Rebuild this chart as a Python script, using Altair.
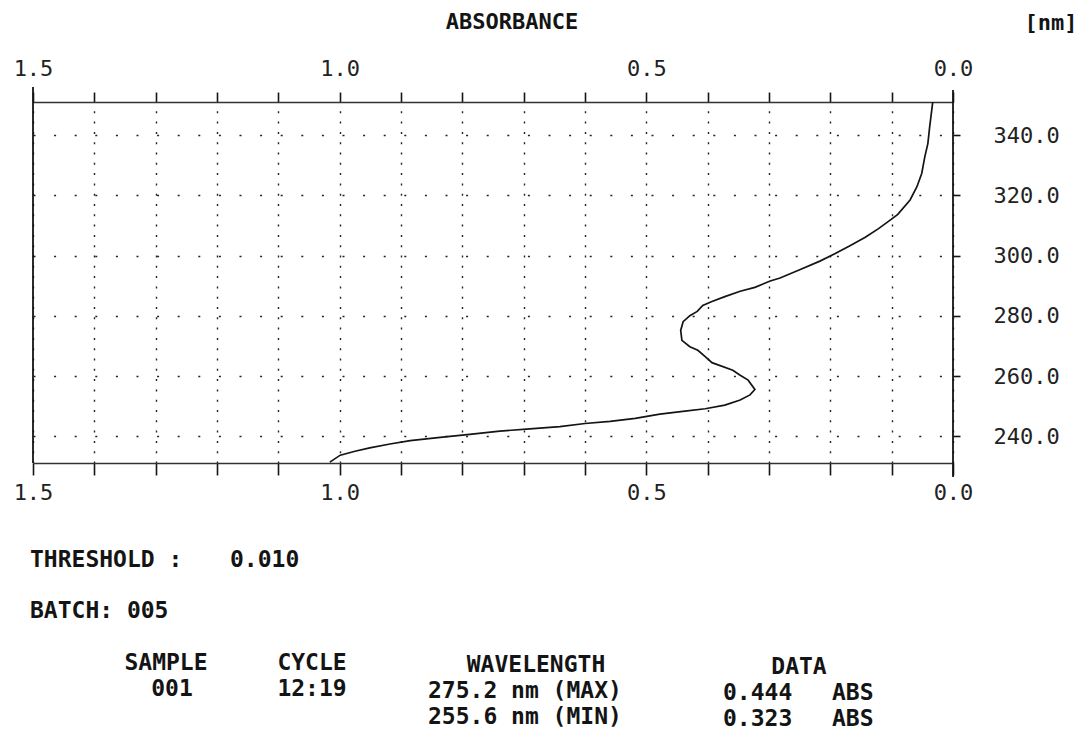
import altair as alt
import pandas as pd

# ---- data ----
wavelength_nm = [231.5, 233.8, 235.1, 236.2, 237.5, 238.6, 239.7, 240.7, 241.8, 242.5,
                 243.3, 244.3, 245.0, 246.0, 247.4, 248.4, 249.2, 250.4, 252.1, 253.8,
                 255.6, 258.7, 260.3, 262.0, 264.5, 266.5, 268.6, 269.8, 271.9, 275.2,
                 278.1, 280.1, 281.5, 283.5, 284.8, 286.4, 288.2, 289.5, 291.6, 292.6,
                 295.4, 298.2, 300.7, 303.3, 306.1, 308.9, 311.7, 313.7, 318.5, 322.8,
                 327.3, 332.8, 337.2, 342.8, 349.4, 351.0]
absorbance = [1.016, 0.999, 0.975, 0.951, 0.918, 0.885, 0.836, 0.788, 0.739, 0.690,
              0.641, 0.600, 0.559, 0.518, 0.478, 0.437, 0.404, 0.372, 0.347, 0.331,
              0.323, 0.334, 0.347, 0.359, 0.393, 0.404, 0.416, 0.429, 0.442, 0.444,
              0.440, 0.429, 0.417, 0.408, 0.393, 0.372, 0.347, 0.323, 0.298, 0.282,
              0.249, 0.217, 0.192, 0.168, 0.143, 0.122, 0.103, 0.090, 0.070, 0.059,
              0.051, 0.046, 0.041, 0.038, 0.034, 0.033]
abs_ticks = [0.0, 0.1, 0.2, 0.3, 0.4, 0.5, 0.6, 0.7, 0.8, 0.9, 1.0, 1.1, 1.2, 1.3, 1.4, 1.5]
wl_ticks = [240, 260, 280, 300, 320, 340]
abs_domain = [0.0, 1.5]
wl_domain = [231.2, 351.0]

peak_wavelengths = [275.2, 255.6]
peak_values = [0.444, 0.323]
peak_kinds = ["MAX", "MIN"]
threshold = ["0.010"]
batch = ["005"]
sample = ["001"]
cycle = ["12:19"]

# ---- layout ----
W, H = 920, 361
PAD_L, PAD_T = 25, 94
OX, OY = PAD_L + 8, PAD_T + 8   # page position of the plot origin
TOTAL_H = 722
INK = "#141414"
MONO = "DejaVu Sans Mono"

df = pd.DataFrame({"abs": absorbance, "wl": wavelength_nm, "i": list(range(len(absorbance)))})

xscale = alt.Scale(domain=abs_domain, reverse=True, nice=False, zero=False)
yscale = alt.Scale(domain=wl_domain, nice=False, zero=False)
label_expr = "round(datum.value*10) % 5 == 0 ? format(datum.value, '.1f') : ''"

common = dict(values=abs_ticks, labelExpr=label_expr, title=None,
              tickColor=INK, tickWidth=1.6, domainColor="#333", domainWidth=1.3,
              labelFont=MONO, labelFontSize=22, labelColor="#222",
              labelFlush=False, labelOverlap=False)

top_axis = alt.Axis(orient="top", tickSize=10, labelPadding=12, grid=True,
                    gridDash=[2, 8.3], gridColor="#222", gridWidth=1.4, **common)
bottom_axis = alt.Axis(orient="bottom", tickSize=12, labelPadding=7, grid=False, **common)
right_axis = alt.Axis(orient="right", values=wl_ticks, format=".1f", title=None,
                      tickSize=7, tickColor=INK, tickWidth=1.6, domain=False,
                      labelPadding=33, labelFont=MONO, labelFontSize=22, labelColor="#222",
                      labelBaseline="middle", labelOverlap=False, labelFlush=False,
                      grid=True, gridDash=[2, 18.6], gridColor="#222", gridWidth=1.4)

curve = alt.Chart(df).mark_line(color=INK, strokeWidth=1.7).encode(
    x=alt.X("abs:Q", scale=xscale, axis=top_axis),
    y=alt.Y("wl:Q", scale=yscale, axis=right_axis),
    order="i:Q",
)

left_edge = alt.Chart(pd.DataFrame({"abs": [abs_domain[1]]})).mark_rule(
    color=INK, strokeWidth=1.8).encode(
    x=alt.X("abs:Q", scale=xscale, axis=bottom_axis),
    y=alt.value(-15), y2=alt.value(H),
)
right_edge = alt.Chart(pd.DataFrame({"abs": [abs_domain[0]]})).mark_rule(
    color=INK, strokeWidth=1.8).encode(
    x=alt.X("abs:Q", scale=xscale, axis=None),
    y=alt.value(-12), y2=alt.value(H + 14),
)


def label(text, px, py, align="left", size=23):
    return alt.Chart(pd.DataFrame({"t": [text]})).mark_text(
        font=MONO, fontWeight="bold", fontSize=size, color=INK,
        align=align, baseline="middle").encode(
        text="t:N", x=alt.value(px - OX), y=alt.value(py - OY))


texts = [
    label("ABSORBANCE", 512, 22, "center", 22),
    label("[nm]", 1051, 23, "center", 22),
    label("THRESHOLD :", 30, 560),
    label(threshold[0], 230, 560),
    label("BATCH: " + batch[0], 30, 611),
    label("SAMPLE", 166, 663, "center"),
    label(sample[0], 172, 689, "center"),
    label("CYCLE", 312, 663, "center"),
    label(cycle[0], 312, 689, "center"),
    label("WAVELENGTH", 536, 665, "center"),
    label("DATA", 799, 667, "center"),
]
rows_y = [691, 717]
data_y = [693, 719]
for k in range(2):
    texts.append(label(f"{peak_wavelengths[k]:.1f} nm ({peak_kinds[k]})", 428, rows_y[k]))
    texts.append(label(f"{peak_values[k]:.3f}", 723, data_y[k]))
    texts.append(label("ABS", 832, data_y[k]))

chart = alt.layer(curve, left_edge, right_edge, *texts).resolve_axis(
    x="independent", y="independent"
).properties(
    width=W, height=H,
    padding={"left": PAD_L, "top": PAD_T, "right": 128, "bottom": TOTAL_H - PAD_T - H},
    autosize=alt.AutoSizeParams(type="none"),
    background="white",
).configure_view(stroke=None)

chart.save("out.html", embed_options={"renderer": "svg", "actions": False})
